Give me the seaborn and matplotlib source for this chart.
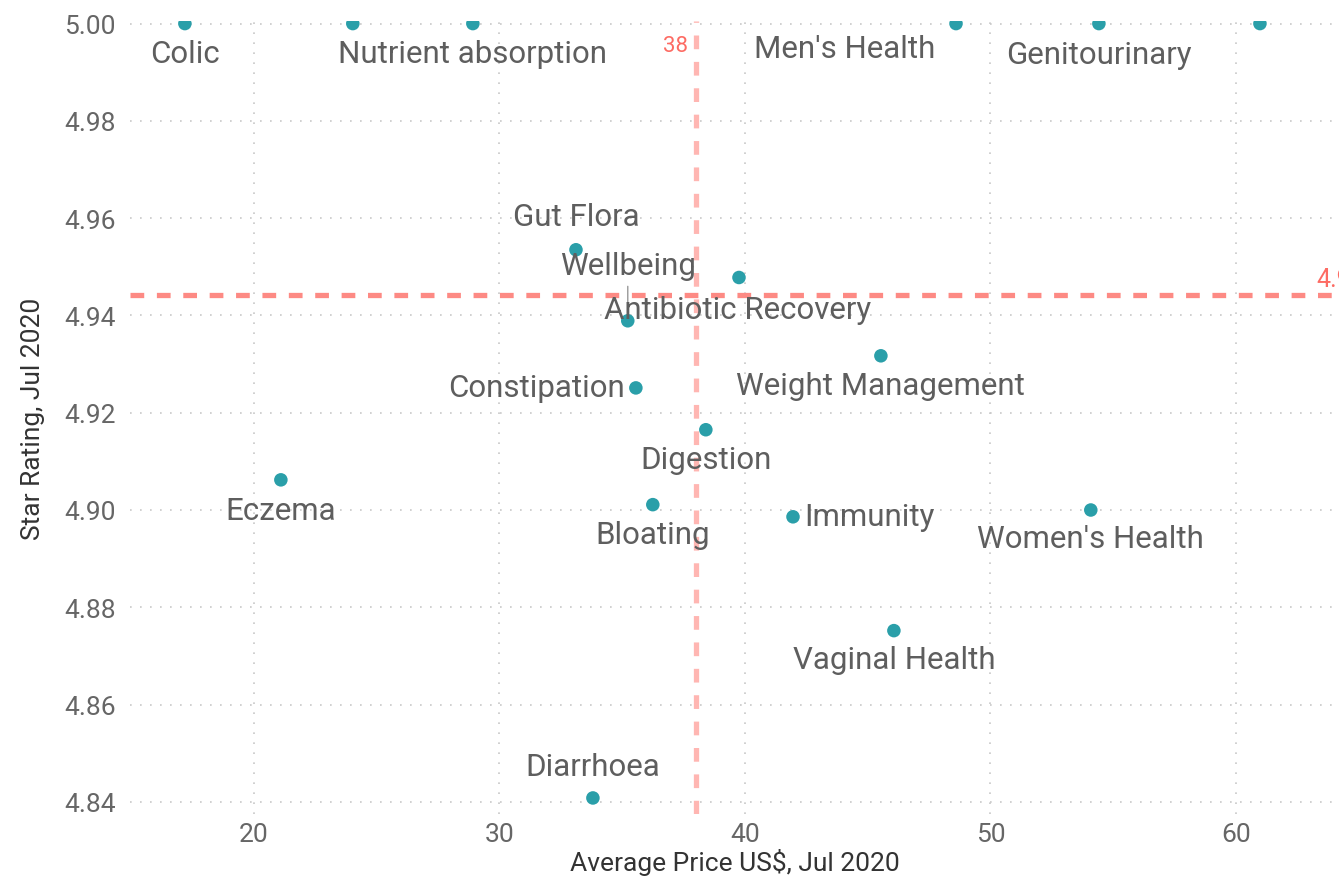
"""Star rating vs average price by health category, Jul 2020."""

import matplotlib
matplotlib.use("Agg")
import matplotlib.pyplot as plt
import pandas as pd
import seaborn as sns

# data
category = [
    "Colic", "", "Nutrient absorption", "Men's Health", "Genitourinary", "",
    "Gut Flora", "Wellbeing", "Antibiotic Recovery", "Constipation",
    "Weight Management", "Digestion", "Eczema", "Bloating", "Immunity",
    "Women's Health", "Vaginal Health", "Diarrhoea",
]
avg_price = [
    17.19, 24.03, 28.92, 48.60, 54.42, 60.98,
    33.12, 35.23, 39.76, 35.56,
    45.54, 38.41, 21.10, 36.25, 41.96,
    54.09, 46.07, 33.81,
]
star_rating = [
    5.000, 5.000, 5.000, 5.000, 5.000, 5.000,
    4.9535, 4.9389, 4.9478, 4.9251,
    4.9317, 4.9165, 4.9062, 4.9011, 4.8986,
    4.9000, 4.8752, 4.8408,
]
price_ref = 38
rating_ref = 4.9441

# label placement (offset in pixels, alignment)
label_pos = {
    "Colic": (0, -30, "center"),
    "Nutrient absorption": (0, -30, "center"),
    "Men's Health": (-111, -25, "center"),
    "Genitourinary": (0, -31, "center"),
    "Gut Flora": (0, 33, "center"),
    "Wellbeing": (0, 55, "center"),
    "Antibiotic Recovery": (-1, -32, "center"),
    "Constipation": (-11, 0, "right"),
    "Weight Management": (0, -30, "center"),
    "Digestion": (0, -30, "center"),
    "Eczema": (0, -31, "center"),
    "Bloating": (0, -30, "center"),
    "Immunity": (11, 0, "left"),
    "Women's Health": (0, -29, "center"),
    "Vaginal Health": (0, -29, "center"),
    "Diarrhoea": (0, 31, "center"),
}

df = pd.DataFrame({"category": category, "price": avg_price, "rating": star_rating})

sns.set_style("white")
plt.rcParams["font.family"] = ["Roboto", "DejaVu Sans"]

fig = plt.figure(figsize=(13.39, 8.79), dpi=100)
ax = fig.add_axes([0.097, 0.0728, 0.903, 0.902])

ax.axhline(rating_ref, color="#FD8A84", lw=3.8, dashes=(2.6, 2.4), zorder=1)
ax.axvline(price_ref, color="#FFB6B2", lw=3.8, dashes=(2.6, 2.4), zorder=1)

sns.scatterplot(
    data=df, x="price", y="rating", ax=ax, s=95,
    color="#2A9FA9", edgecolor="none", zorder=3,
)

for _, r in df.iterrows():
    if r["category"] not in label_pos:
        continue
    dx, dy, ha = label_pos[r["category"]]
    arrow = None
    if r["category"] == "Wellbeing":
        arrow = dict(arrowstyle="-", color="#999999", lw=1, shrinkA=2, shrinkB=5)
    ax.annotate(
        r["category"], (r["price"], r["rating"]),
        xytext=(dx, dy), textcoords="offset pixels",
        ha=ha, va="center", fontsize=22.5, color="#5E5E5E",
        arrowprops=arrow, zorder=4,
    )

# reference line labels
ax.text(price_ref - 0.3, 4.9955, str(price_ref), ha="right", va="center",
        fontsize=16, color="#FD6B63")
ax.annotate(f"{rating_ref:.2f}", (0.981, rating_ref), xycoords=("axes fraction", "data"),
            xytext=(0, 4), textcoords="offset pixels",
            ha="left", va="bottom", fontsize=18, color="#FD6B63", annotation_clip=False)

ax.set_xlim(14.95, 64.2)
ax.set_ylim(4.8375, 5.0005)
ax.set_xticks([20, 30, 40, 50, 60])
ax.set_yticks([4.84, 4.86, 4.88, 4.90, 4.92, 4.94, 4.96, 4.98, 5.00])
ax.yaxis.set_major_formatter(matplotlib.ticker.FormatStrFormatter("%.2f"))
ax.tick_params(axis="both", length=0, labelsize=19, labelcolor="#666666", pad=10)
ax.tick_params(axis="x", pad=6)

ax.grid(True, color="#C8C8C8", linestyle=(0, (1, 5)), lw=1.2)
ax.set_axisbelow(True)
for s in ax.spines.values():
    s.set_visible(False)

ax.set_xlabel("Average Price US$, Jul 2020", fontsize=19, color="#333333", labelpad=1)
ax.set_ylabel("Star Rating, Jul 2020", fontsize=19, color="#333333", labelpad=14)

fig.savefig("out.png", dpi=100)
